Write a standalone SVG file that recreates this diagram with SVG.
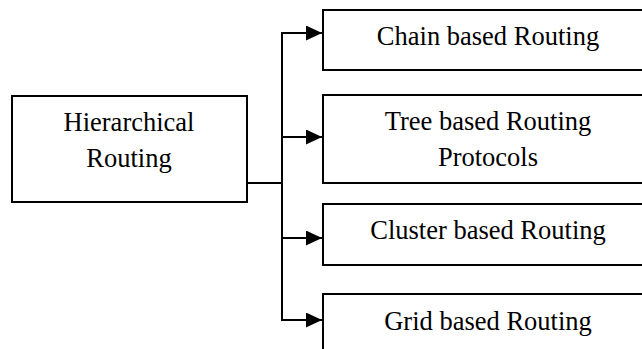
<svg xmlns="http://www.w3.org/2000/svg" width="642" height="349" viewBox="0 0 642 349">
<style>
.box{fill:#fff;stroke:#000;stroke-width:2}
.t{font-family:"Liberation Serif","Times New Roman",serif;font-size:26.5px;fill:#000;text-anchor:middle}
.c{fill:none;stroke:#000;stroke-width:2}
</style>
<defs>
<marker id="ah" viewBox="0 0 16 16" refX="16" refY="8" markerWidth="16" markerHeight="15" markerUnits="userSpaceOnUse" orient="auto" preserveAspectRatio="none">
<path d="M0,0 L16,8 L0,16 Z" fill="#000"/>
</marker>
</defs>
<rect width="642" height="349" fill="#fff"/>
<g id="connectors">
<path class="c" d="M247,183 H282"/>
<path class="c" d="M282,320 V33"/>
<path class="c" d="M281,33 H322" marker-end="url(#ah)"/>
<path class="c" d="M281,137 H322" marker-end="url(#ah)"/>
<path class="c" d="M281,238 H322" marker-end="url(#ah)"/>
<path class="c" d="M281,320 H322" marker-end="url(#ah)"/>
</g>
<g id="hierarchical">
<rect class="box" x="12" y="96" width="235" height="106"/>
<text class="t" x="129" y="131">Hierarchical</text>
<text class="t" x="129" y="167">Routing</text>
</g>
<g id="chain">
<rect class="box" x="323" y="10" width="340" height="60"/>
<text class="t" x="488" y="45">Chain based Routing</text>
</g>
<g id="tree">
<rect class="box" x="323" y="95" width="340" height="88"/>
<text class="t" x="488" y="130">Tree based Routing</text>
<text class="t" x="488" y="166">Protocols</text>
</g>
<g id="cluster">
<rect class="box" x="323" y="204" width="340" height="61"/>
<text class="t" x="488" y="239">Cluster based Routing</text>
</g>
<g id="grid">
<rect class="box" x="323" y="294" width="340" height="80"/>
<text class="t" x="488" y="330">Grid based Routing</text>
</g>
</svg>
